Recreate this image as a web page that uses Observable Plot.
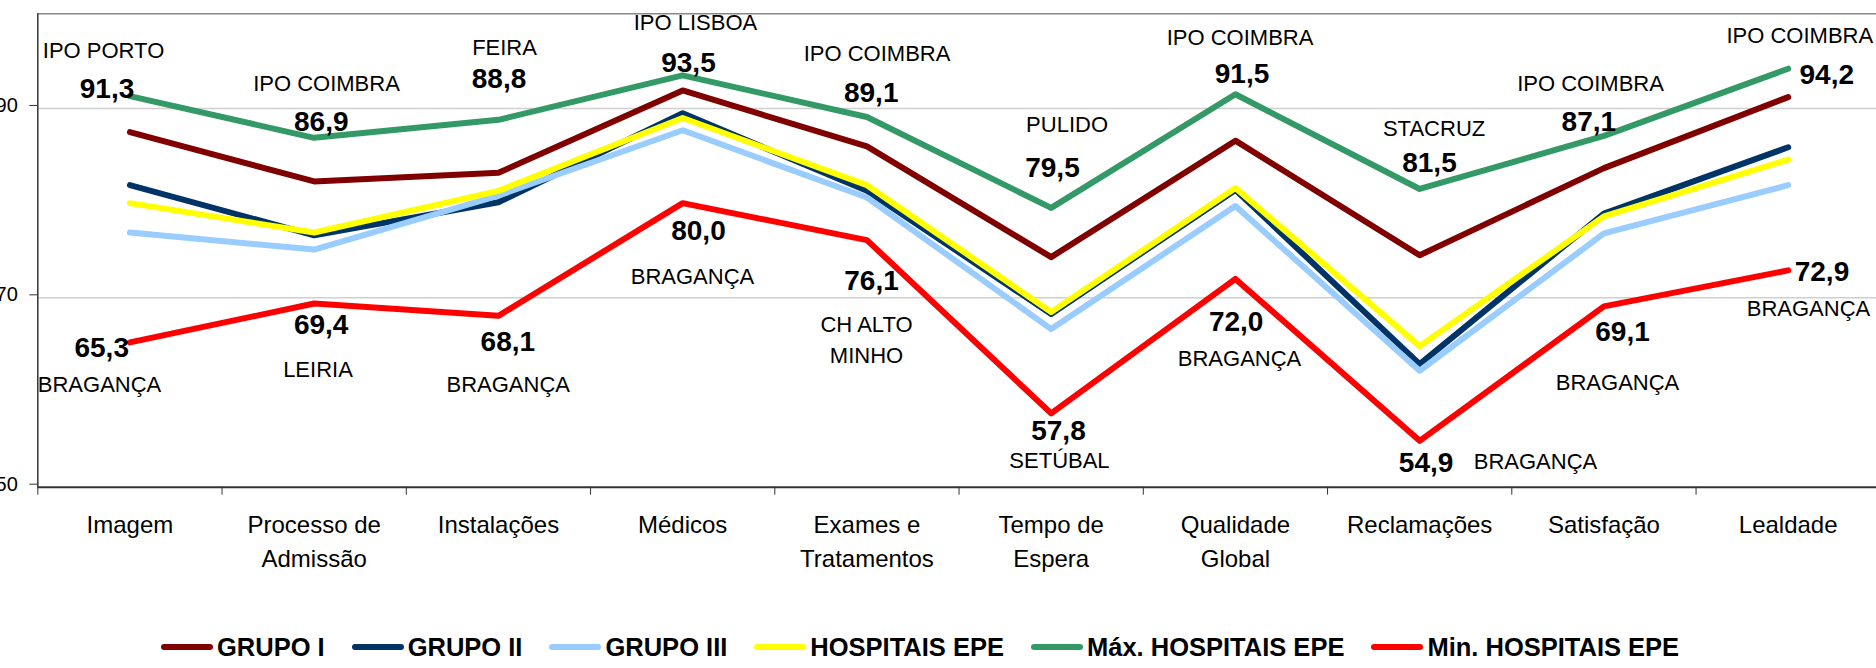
<!DOCTYPE html>
<html>
<head>
<meta charset="utf-8">
<script src="https://cdn.jsdelivr.net/npm/d3@7"></script>
<script src="https://cdn.jsdelivr.net/npm/@observablehq/plot@0.6"></script>
<style>
html,body{margin:0;padding:0;background:#fff;overflow:hidden;width:1876px;height:668px;}
#wrap{position:relative;width:1876px;height:668px;font-family:"Liberation Sans",Arial,sans-serif;}
#legend{position:absolute;left:161px;top:632px;display:flex;align-items:center;height:30px;font-weight:bold;font-size:25.5px;line-height:30px;white-space:nowrap;color:#000;}
#legend .item{display:flex;align-items:center;margin-right:27px;}
#legend .sw{width:52px;height:6px;border-radius:3px;margin-right:4px;}
</style>
</head>
<body>
<div id="wrap"><div id="chart"></div><div id="legend"></div></div>
<script>
// ---------- data ----------
const categories = ["Imagem","Processo de\nAdmissão","Instalações","Médicos","Exames e\nTratamentos","Tempo de\nEspera","Qualidade\nGlobal","Reclamações","Satisfação","Lealdade"];
const seriesNames = ["GRUPO I","GRUPO II","GRUPO III","HOSPITAIS EPE","Máx. HOSPITAIS EPE","Min. HOSPITAIS EPE"];
const grupoI       = [87.5, 82.3, 83.2, 91.9, 86.0, 74.3, 86.6, 74.5, 83.7, 91.2];
const grupoII      = [81.9, 76.6, 80.1, 89.5, 81.3, 68.3, 81.4, 63.0, 78.9, 85.9];
const grupoIII     = [76.9, 75.1, 80.8, 87.7, 80.6, 66.7, 79.7, 62.3, 76.8, 81.9];
const hospitaisEPE = [80.0, 76.9, 81.3, 89.0, 81.9, 68.5, 81.6, 64.9, 78.6, 84.6];
const maxEPE       = [91.3, 86.9, 88.8, 93.5, 89.1, 79.5, 91.5, 81.5, 87.1, 94.2];
const minEPE       = [65.3, 69.4, 68.1, 80.0, 76.1, 57.8, 72.0, 54.9, 69.1, 72.9];
const maxHospitals = ["IPO PORTO","IPO COIMBRA","FEIRA","IPO LISBOA","IPO COIMBRA","PULIDO","IPO COIMBRA","STACRUZ","IPO COIMBRA","IPO COIMBRA"];
const minHospitals = ["BRAGANÇA","LEIRIA","BRAGANÇA","BRAGANÇA","CH ALTO\nMINHO","SETÚBAL","BRAGANÇA","BRAGANÇA","BRAGANÇA","BRAGANÇA"];
const yTicks = [50, 70, 90];
const yDomain = [50, 100];

// ---------- styling / layout ----------
const colors = ["#800000","#003366","#99CCFF","#FFFF00","#339966","#FF0000"];
// label offsets [dx, dy] in pixels relative to each point
const maxValueOffsets = [[-22.9,1.6],[7.1,-6.4],[0.6,-31.8],[5.8,-2.9],[4.3,-15.3],[1.3,-31.2],[6.6,-10.8],[9.8,-16.6],[-15.1,-4.5],[38.6,15.4]];
const maxNameOffsets  = [[-26.4,-38.1],[12.3,-47.1],[6.1,-65.1],[12.8,-45.3],[10.1,-56.3],[15.9,-75.5],[4.6,-49.2],[14.4,-53.3],[-13.4,-45.2],[11.6,-26.2]];
const minValueOffsets = [[-28.2,14.3],[7,30.4],[9.4,35.5],[15.8,36.8],[4.6,49.9],[7.3,26.5],[0.7,51.7],[6.4,31.4],[18.6,35],[33.8,11]];
const minNameOffsets  = [[-30.4,50],[3.8,73.8],[9.8,76.5],[9.8,80.8],[-0.4,123.3],[8.3,54.9],[4.1,86.7],[115.8,28],[13.6,83.6],[20.3,45.3]];

const FONT = '"Liberation Sans", Arial, sans-serif';
const seriesValues = [grupoI, grupoII, grupoIII, hospitaisEPE, maxEPE, minEPE];
const n = categories.length;
const idx = d3.range(n);
const boundaries = d3.range(n + 1).map(i => i - 0.5);
const rows = seriesNames.flatMap((s, k) => seriesValues[k].map((v, i) => ({series: s, i, v})));
const fmt = v => v.toFixed(1).replace(".", ",");

const labelMarks = [];
idx.forEach(i => {
  labelMarks.push(Plot.text([i], {x: d => d, y: d => maxEPE[d], text: d => fmt(maxEPE[d]),
    dx: maxValueOffsets[i][0], dy: maxValueOffsets[i][1], lineAnchor: "bottom", fontSize: 28, fontWeight: "bold", fill: "#000"}));
  labelMarks.push(Plot.text([i], {x: d => d, y: d => maxEPE[d], text: d => maxHospitals[d],
    dx: maxNameOffsets[i][0], dy: maxNameOffsets[i][1], lineAnchor: "bottom", fontSize: 22, fill: "#000"}));
  labelMarks.push(Plot.text([i], {x: d => d, y: d => minEPE[d], text: d => fmt(minEPE[d]),
    dx: minValueOffsets[i][0], dy: minValueOffsets[i][1], lineAnchor: "bottom", fontSize: 28, fontWeight: "bold", fill: "#000"}));
  labelMarks.push(Plot.text([i], {x: d => d, y: d => minEPE[d], text: d => minHospitals[d],
    dx: minNameOffsets[i][0], dy: minNameOffsets[i][1], lineAnchor: "bottom", lineHeight: 1.44, fontSize: 22, fill: "#000"}));
});

const chart = Plot.plot({
  width: 1876,
  height: 600,
  marginLeft: 37.3,
  marginRight: 0,
  marginTop: 13.3,
  marginBottom: 113.3,
  x: {type: "linear", domain: [-0.5, n - 0.5], range: [37.3, 1879.8], label: null},
  y: {domain: yDomain, range: [486.7, 13.3], label: null},
  style: {fontFamily: FONT, background: "#fff", overflow: "visible"},
  marks: [
    Plot.gridY(yTicks.filter(t => t > yDomain[0]), {stroke: "#d0d0d0", strokeOpacity: 1, strokeWidth: 1.5}),
    Plot.ruleY([yDomain[1]], {stroke: "#888", strokeWidth: 1.5}),
    Plot.axisY({ticks: yTicks, label: null, tickSize: 8, tickPadding: 12, fontSize: 20, dy: -3, stroke: "#333", fill: "#000", tickFormat: d => String(d)}),
    Plot.axisX({ticks: boundaries, label: null, tickSize: 8, tickFormat: () => "", stroke: "#333"}),
    Plot.axisX({ticks: idx, label: null, tickSize: 0, tickPadding: 21.5, tickFormat: i => categories[i], fontSize: 24, lineHeight: 1.417, fill: "#000"}),
    Plot.ruleX([-0.5], {stroke: "#333", strokeWidth: 1.5}),
    Plot.ruleY([yDomain[0]], {stroke: "#333", strokeWidth: 2}),
    Plot.line(rows, {x: "i", y: "v", z: "series", stroke: d => colors[seriesNames.indexOf(d.series)],
      strokeWidth: 6, strokeLinecap: "round", strokeLinejoin: "round"}),
    ...labelMarks
  ]
});
document.getElementById("chart").appendChild(chart);

// legend
const legend = document.getElementById("legend");
seriesNames.forEach((s, k) => {
  const item = document.createElement("div");
  item.className = "item";
  const sw = document.createElement("span");
  sw.className = "sw";
  sw.style.background = colors[k];
  const t = document.createElement("span");
  t.textContent = s;
  item.appendChild(sw);
  item.appendChild(t);
  legend.appendChild(item);
});
</script>
</body>
</html>
